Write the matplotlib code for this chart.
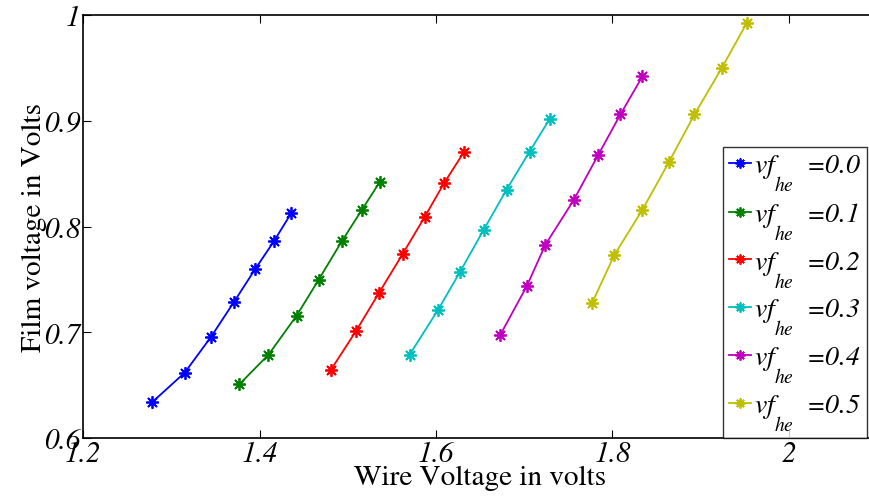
import matplotlib.pyplot as plt

plt.rcParams['mathtext.fontset'] = 'stix'
plt.rcParams['font.family'] = 'STIXGeneral'

vf_he = ['0.0', '0.1', '0.2', '0.3', '0.4', '0.5']
wire_00 = [1.278, 1.315, 1.345, 1.371, 1.395, 1.416, 1.436]
film_00 = [0.634, 0.662, 0.696, 0.729, 0.760, 0.786, 0.813]
wire_01 = [1.377, 1.410, 1.442, 1.467, 1.493, 1.516, 1.536]
film_01 = [0.651, 0.679, 0.716, 0.750, 0.786, 0.816, 0.842]
wire_02 = [1.481, 1.509, 1.535, 1.562, 1.587, 1.609, 1.632]
film_02 = [0.665, 0.701, 0.737, 0.774, 0.809, 0.841, 0.871]
wire_03 = [1.570, 1.602, 1.627, 1.654, 1.680, 1.706, 1.729]
film_03 = [0.679, 0.721, 0.757, 0.797, 0.835, 0.871, 0.902]
wire_04 = [1.673, 1.703, 1.724, 1.756, 1.784, 1.809, 1.834]
film_04 = [0.698, 0.744, 0.783, 0.825, 0.868, 0.906, 0.942]
wire_05 = [1.777, 1.802, 1.834, 1.864, 1.893, 1.924, 1.952]
film_05 = [0.728, 0.773, 0.816, 0.861, 0.906, 0.950, 0.992]

wires = [wire_00, wire_01, wire_02, wire_03, wire_04, wire_05]
films = [film_00, film_01, film_02, film_03, film_04, film_05]
colors = [(0, 0, 1), (0, 0.5, 0), (1, 0, 0), (0, 0.75, 0.75), (0.75, 0, 0.75), (0.75, 0.75, 0)]

fig = plt.figure(figsize=(8.7, 5.02), dpi=100)
ax = fig.add_axes([0.0957, 0.1249, 0.9124, 0.8432])

# matlab style asterisk marker
for i in range(len(vf_he)):
    # subscript hangs low like the matlab tex one
    ax.plot(wires[i], films[i], color=colors[i], linewidth=1.3,
            marker=(8, 2, 0), markersize=9, markeredgewidth=1.3,
            label=r'$vf\underset{he}{\;}$  =' + vf_he[i])

ax.set_xlim(1.2, 2.1)
ax.set_ylim(0.6, 1.0)
ax.set_xticks([1.2, 1.4, 1.6, 1.8, 2.0])
ax.set_xticklabels(['1.2', '1.4', '1.6', '1.8', '2'])
ax.set_yticks([0.6, 0.7, 0.8, 0.9, 1.0])
ax.set_yticklabels(['0.6', '0.7', '0.8', '0.9', '1'])
ax.tick_params(direction='in', length=6, width=0.8, top=True, right=True,
               labelsize=21, pad=2)
for lab in ax.get_xticklabels() + ax.get_yticklabels():
    lab.set_style('italic')
for sp in ax.spines.values():
    sp.set_linewidth(1.2)

ax.set_xlabel('Wire Voltage in volts', fontsize=21, labelpad=-2)
ax.set_ylabel('Film voltage in Volts', fontsize=21, labelpad=-2)

leg = ax.legend(loc='lower right', bbox_to_anchor=(0.987, 0.0),
                prop={'family': 'STIXGeneral', 'style': 'italic', 'size': 20},
                handlelength=0.8, handletextpad=0.1, borderpad=0.2,
                labelspacing=0.26, borderaxespad=0, fancybox=False,
                markerscale=0.8)
leg.get_frame().set_edgecolor('black')
leg.get_frame().set_linewidth(1.0)

plt.savefig('out.png', dpi=100)
